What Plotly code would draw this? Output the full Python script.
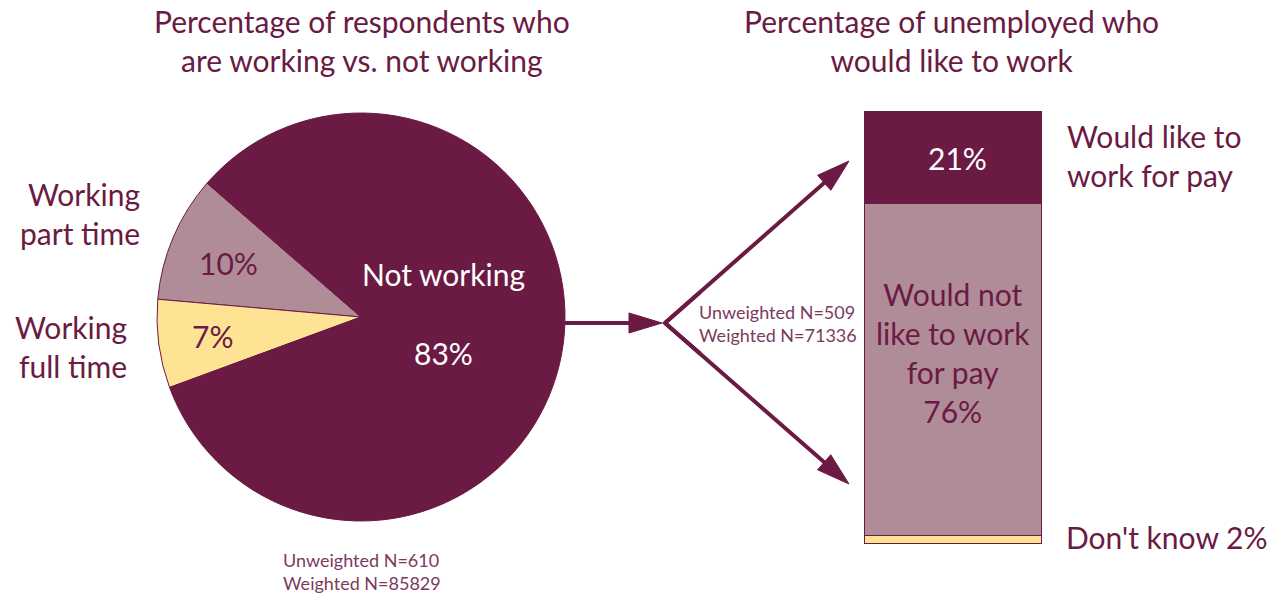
import plotly.graph_objects as go

# ---- data ----
work_labels = ["Working part time", "Working full time", "Not working"]
work_values = [10, 7, 83]
work_colors = ["#b08c98", "#ffe395", "#6b1a43"]

wish_labels = ["Don't know", "Would not like to work for pay", "Would like to work for pay"]
wish_values = [2, 76, 21]
wish_colors = ["#ffe395", "#b08c98", "#6b1a43"]

pie_n = ("Unweighted N=610", "Weighted N=85829")
bar_n = ("Unweighted N=509", "Weighted N=71336")

W, H = 1287, 597
MAROON = "#6b1a43"
FONT = "Lato"
BIG = 30


def px(x):
    return x / W


def py(y):
    return 1 - y / H


fig = go.Figure()

# pie: centre (361, 317), radius 204 px; part-time slice begins 49 deg
# counter-clockwise from 12 o'clock (plotly anchors the first slice's far edge)
cx, cy, r = 361, 317, 204
fig.add_trace(go.Pie(
    labels=work_labels, values=work_values, sort=False,
    direction="counterclockwise", rotation=-85,
    marker=dict(colors=work_colors, line=dict(color=MAROON, width=1)),
    textinfo="none", hoverinfo="label+percent", showlegend=False,
    domain=dict(x=[px(cx - r), px(cx + r)], y=[py(cy + r), py(cy - r)]),
))

# stacked single bar
for lab, val, col in zip(wish_labels, wish_values, wish_colors):
    fig.add_trace(go.Bar(
        x=[0], y=[val], name=lab, width=1,
        marker=dict(color=col, line=dict(color=MAROON, width=1.5)),
        showlegend=False, hoverinfo="name+y",
    ))

fig.update_layout(
    width=W, height=H, margin=dict(l=0, r=0, t=0, b=0),
    paper_bgcolor="white", plot_bgcolor="white",
    barmode="stack",
    xaxis=dict(domain=[px(864), px(1042)], range=[-0.5, 0.5], visible=False, fixedrange=True),
    yaxis=dict(domain=[py(544), py(111)], range=[0, sum(wish_values)], visible=False, fixedrange=True),
    font=dict(family=FONT, color=MAROON),
)

ann = []


def text(x, y, s, size, color=MAROON, xanchor="center", align="center"):
    ann.append(dict(x=px(x), y=py(y), xref="paper", yref="paper", text=s,
                    showarrow=False, xanchor=xanchor, yanchor="middle", align=align,
                    font=dict(family=FONT, size=size, color=color)))


# titles
text(362, 40, "Percentage of respondents who<br>are working vs. not working", BIG)
text(951, 40, "Percentage of unemployed who<br>would like to work", BIG)

# pie labels
text(142, 214, "Working<br>part time", BIG, xanchor="right", align="right")
text(129, 346, "Working<br>full time", BIG, xanchor="right", align="right")
text(228, 263, f"{work_values[0]}%", BIG)
text(212, 336, f"{work_values[1]}%", BIG)
text(444, 274, work_labels[2], BIG, color="white")
text(443, 353, f"{work_values[2]}%", BIG, color="white")
text(281, 571, "<br>".join(pie_n), 18, color="#7d3a5e", xanchor="left", align="left")

# bar labels
text(957, 158, f"{wish_values[2]}%", BIG, color="white")
text(953, 352, f"Would not<br>like to work<br>for pay<br>{wish_values[1]}%", BIG)
text(1065, 155, "Would like to<br>work for pay", BIG, xanchor="left", align="left")
text(1064, 537, f"Don't know {wish_values[0]}%", BIG, xanchor="left", align="left")
text(697, 323, "<br>".join(bar_n), 18, color="#7d3a5e", xanchor="left", align="left")

fig.update_layout(annotations=ann)

# arrows drawn as a shaft plus a filled triangular head (pixel geometry)
shapes = []


def arrow(x0, y0, x1, y1, head_len=33, head_half=10, lw=4):
    dx, dy = x1 - x0, y1 - y0
    L = (dx * dx + dy * dy) ** 0.5
    ux, uy = dx / L, dy / L
    bx, by = x1 - ux * head_len, y1 - uy * head_len
    shapes.append(dict(type="line", xref="paper", yref="paper",
                       x0=px(x0), y0=py(y0), x1=px(bx + ux * 2), y1=py(by + uy * 2),
                       line=dict(color=MAROON, width=lw)))
    lx, ly = bx - uy * head_half, by + ux * head_half
    rx, ry = bx + uy * head_half, by - ux * head_half
    path = (f"M{px(x1)},{py(y1)} L{px(lx)},{py(ly)} L{px(rx)},{py(ry)} Z")
    shapes.append(dict(type="path", xref="paper", yref="paper", path=path,
                       fillcolor=MAROON, line=dict(color=MAROON, width=1)))


arrow(565, 323, 662, 323)
arrow(665, 323, 849, 161)
arrow(665, 323, 849, 484)
# join of the two diagonal shafts at the vertex
shapes.append(dict(type="path", xref="paper", yref="paper",
                   path=f"M{px(700)},{py(292.2)} L{px(665)},{py(323)} L{px(700)},{py(353.6)}",
                   line=dict(color=MAROON, width=4)))

fig.update_layout(shapes=shapes)

fig.write_html("out.html")
